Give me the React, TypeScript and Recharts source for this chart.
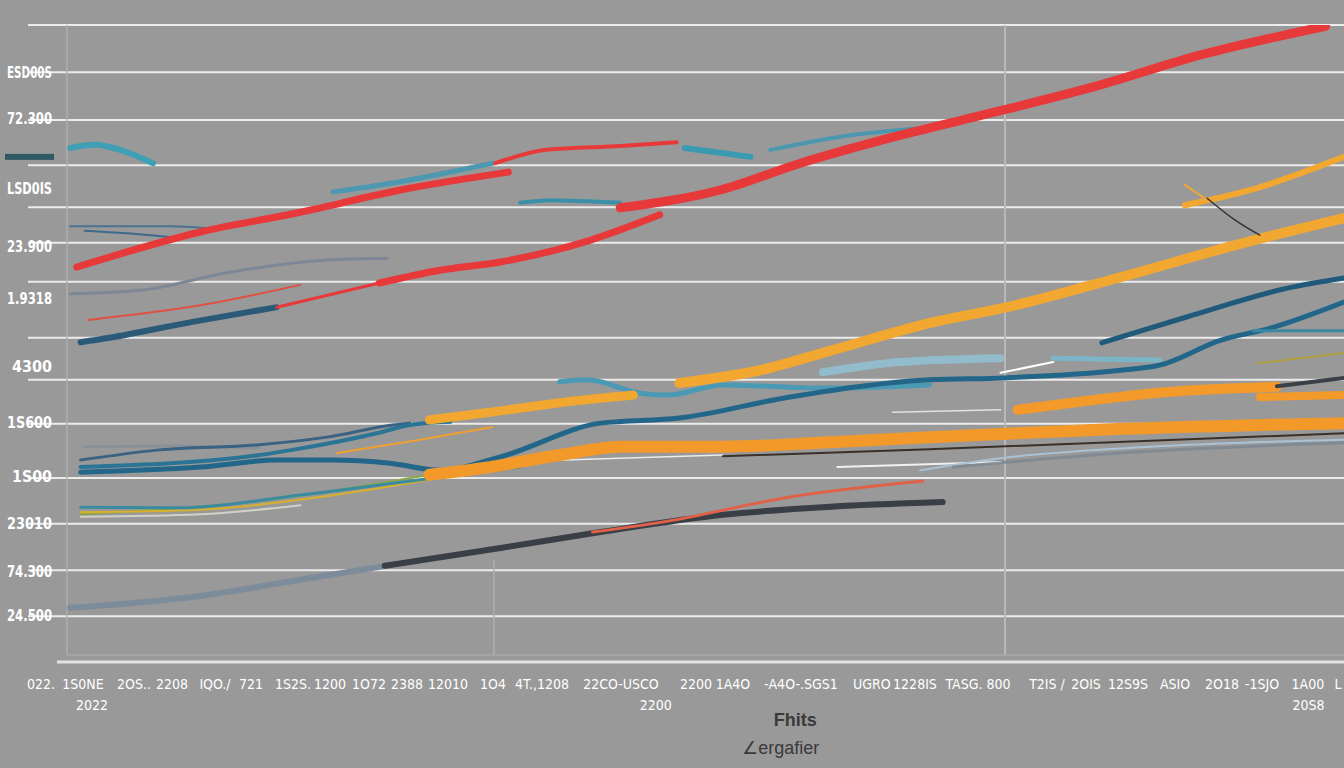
import React from 'react';
import { LineChart, Line, XAxis, YAxis, ReferenceLine, Label } from 'recharts';

type Pt = { x: number; y: number };

// ---- axis ticks ----
const yTickValues = [92.6, 85.4, 79.3, 74.4, 65.3, 57.1, 46.5, 37.7, 29.2, 21.8, 14.3, 7.4];
const yTickLabels = ['ESD00S', '72.300', '', 'LSD0IS', '23.900', '1.9318', '4300', '1S600', '1S00', '23010', '74.300', '24.500'];

const xTickValues = [0.99, 4.18, 8.05, 10.94, 14.21, 16.95, 20.14, 22.95, 25.91, 28.8, 31.91, 35.33, 39.06, 45.06, 50.76, 53.57, 58.74, 64.13, 67.4, 72.19, 77.43, 80.4, 83.59, 87.16, 90.73, 93.77, 97.26, 99.54];
const xTickLabels = ['022.', '1S0NE', '2OS..', '2208', 'IQO./', '721', '1S2S.', '1200', '1O72', '2388', '12010', '1O4', '4T.,1208', '22CO-USCO', '2200', '1A4O', '-A4O-.SGS1', 'UGRO', '1228IS', 'TASG. 800', 'T2IS /', '2OIS', '12S9S', 'ASIO', '2O18', '-1SJO', '1A00', 'L'];

const secondRowValues = [4.86, 47.7, 97.3];
const secondRowLabels = ['2022', '2200', '20S8'];

const titleLines = ['Fhits', '∠ergafier'];
const titlePositions = [58.3, 57.2];

const gridValues = [100, 92.6, 85.1, 78.0, 71.4, 65.8, 59.7, 50.9, 44.3, 37.4, 28.9, 21.7, 14.4, 7.2];

// ---- series ----
const whiteA: Pt[] = [{ x: 35.9, y: 31.4 }, { x: 52.8, y: 32.5 }];
const whiteB: Pt[] = [{ x: 61.5, y: 30.6 }, { x: 73.9, y: 31.4 }];
const whiteC: Pt[] = [{ x: 73.9, y: 45.4 }, { x: 77.9, y: 47.1 }];
const whiteD: Pt[] = [{ x: 65.7, y: 39.2 }, { x: 73.9, y: 39.6 }];
const lightBlueR: Pt[] = [{ x: 67.8, y: 30.1 }, { x: 73.9, y: 32.0 }, { x: 85.3, y: 33.8 }, { x: 100, y: 34.9 }];
const grayR: Pt[] = [{ x: 70.3, y: 30.6 }, { x: 83.0, y: 32.8 }, { x: 100, y: 34.4 }];
const grayLine: Pt[] = [{ x: 3.2, y: 57.8 }, { x: 8.7, y: 58.4 }, { x: 15.1, y: 61.1 }, { x: 22.7, y: 63.1 }, { x: 27.3, y: 63.4 }];
const grayLeft: Pt[] = [{ x: 4.3, y: 33.8 }, { x: 10.0, y: 33.9 }, { x: 17.6, y: 33.6 }];
const lightLeft: Pt[] = [{ x: 4.0, y: 22.8 }, { x: 13.1, y: 23.2 }, { x: 20.7, y: 24.6 }];
const greenLeft: Pt[] = [{ x: 4.0, y: 23.2 }, { x: 16.9, y: 25.1 }, { x: 30.5, y: 29.4 }];
const yellowLeft: Pt[] = [{ x: 4.0, y: 23.5 }, { x: 13.1, y: 23.9 }, { x: 22.2, y: 25.9 }, { x: 30.5, y: 28.6 }];
const tealThinLeft: Pt[] = [{ x: 4.0, y: 24.3 }, { x: 11.6, y: 24.2 }, { x: 20.7, y: 26.2 }, { x: 29.8, y: 28.6 }, { x: 37.4, y: 30.6 }];
const orangeThin: Pt[] = [{ x: 23.5, y: 32.8 }, { x: 29.8, y: 34.9 }, { x: 35.3, y: 36.9 }];
const blueThinA: Pt[] = [{ x: 3.2, y: 68.4 }, { x: 10.8, y: 68.4 }, { x: 13.6, y: 68.1 }];
const blueThinB: Pt[] = [{ x: 4.3, y: 67.7 }, { x: 7.5, y: 67.3 }, { x: 11.3, y: 66.6 }];
const lightTeal: Pt[] = [{ x: 60.4, y: 45.5 }, { x: 66.3, y: 47.1 }, { x: 73.9, y: 47.7 }];
const lightTeal2: Pt[] = [{ x: 77.9, y: 47.7 }, { x: 86.0, y: 47.4 }];
const tealBand: Pt[] = [{ x: 40.4, y: 44.0 }, { x: 42.5, y: 44.3 }, { x: 46.5, y: 42.2 }, { x: 48.6, y: 41.9 }, { x: 52.8, y: 43.5 }, { x: 60.4, y: 43.0 }, { x: 68.5, y: 43.5 }];
const tealTopLeft: Pt[] = [{ x: 3.2, y: 80.7 }, { x: 5.1, y: 81.2 }, { x: 7.0, y: 80.4 }, { x: 9.5, y: 78.3 }];
const tealUpper: Pt[] = [{ x: 23.2, y: 73.8 }, { x: 27.7, y: 75.2 }, { x: 35.3, y: 78.3 }];
const tealMid: Pt[] = [{ x: 37.4, y: 72.1 }, { x: 39.7, y: 72.5 }, { x: 45.0, y: 72.1 }];
const tealRight1: Pt[] = [{ x: 49.9, y: 80.7 }, { x: 54.9, y: 79.3 }];
const tealRight2: Pt[] = [{ x: 56.4, y: 80.4 }, { x: 62.5, y: 82.7 }, { x: 69.3, y: 84.0 }];
const blueA: Pt[] = [{ x: 4.0, y: 31.7 }, { x: 10.0, y: 33.3 }, { x: 17.6, y: 34.1 }, { x: 22.7, y: 35.3 }, { x: 27.7, y: 37.2 }, { x: 29.0, y: 37.5 }];
const blueB: Pt[] = [{ x: 4.0, y: 30.6 }, { x: 17.6, y: 32.5 }, { x: 20.1, y: 33.3 }, { x: 26.5, y: 35.9 }, { x: 29.0, y: 37.2 }, { x: 32.1, y: 37.7 }];
const blueLong: Pt[] = [{ x: 4.0, y: 29.8 }, { x: 13.1, y: 30.6 }, { x: 18.9, y: 31.7 }, { x: 23.0, y: 31.7 }, { x: 27.5, y: 31.2 }, { x: 31.3, y: 30.1 }, { x: 35.9, y: 32.2 }, { x: 43.5, y: 37.5 }, { x: 49.5, y: 38.3 }, { x: 57.9, y: 41.6 }, { x: 68.5, y: 44.3 }, { x: 74.1, y: 44.6 }, { x: 83.0, y: 45.8 }, { x: 86.0, y: 46.6 }, { x: 90.6, y: 50.5 }, { x: 94.4, y: 52.4 }, { x: 100, y: 56.5 }];
const blueUpperRight: Pt[] = [{ x: 81.6, y: 50.1 }, { x: 88.1, y: 54.2 }, { x: 95.7, y: 58.7 }, { x: 100, y: 60.3 }];
const tealRightThin: Pt[] = [{ x: 93.1, y: 52.0 }, { x: 100, y: 52.0 }];
const darkBottomLight: Pt[] = [{ x: 3.2, y: 8.5 }, { x: 12.5, y: 10.2 }, { x: 20.7, y: 12.9 }, { x: 27.5, y: 15.2 }];
const darkBottom: Pt[] = [{ x: 27.1, y: 15.1 }, { x: 35.9, y: 17.9 }, { x: 43.5, y: 20.4 }, { x: 52.8, y: 23.1 }, { x: 60.4, y: 24.3 }, { x: 69.5, y: 25.1 }];
const redLowerRight: Pt[] = [{ x: 42.9, y: 20.4 }, { x: 48.3, y: 22.0 }, { x: 57.9, y: 25.9 }, { x: 68.0, y: 28.4 }];
const orangeLeft: Pt[] = [{ x: 30.5, y: 38.0 }, { x: 35.1, y: 39.2 }, { x: 40.4, y: 40.7 }, { x: 46.0, y: 41.9 }];
const orangeMain: Pt[] = [{ x: 49.5, y: 43.8 }, { x: 55.6, y: 45.8 }, { x: 61.2, y: 49.0 }, { x: 68.5, y: 53.2 }, { x: 74.4, y: 55.7 }, { x: 83.0, y: 60.4 }, { x: 93.1, y: 66.2 }, { x: 100, y: 69.7 }];
const orangeWide: Pt[] = [{ x: 30.5, y: 29.4 }, { x: 35.1, y: 30.6 }, { x: 40.4, y: 32.5 }, { x: 45.2, y: 33.8 }, { x: 52.8, y: 33.8 }, { x: 60.9, y: 34.5 }, { x: 68.5, y: 35.3 }, { x: 80.5, y: 36.4 }, { x: 100, y: 37.5 }];
const darkUnder: Pt[] = [{ x: 52.8, y: 32.3 }, { x: 68.5, y: 33.4 }, { x: 100, y: 35.9 }];
const orange3: Pt[] = [{ x: 75.2, y: 39.6 }, { x: 80.5, y: 41.0 }, { x: 85.5, y: 42.2 }, { x: 94.9, y: 43.2 }];
const orange4: Pt[] = [{ x: 93.6, y: 41.6 }, { x: 100, y: 41.9 }];
const darkRight: Pt[] = [{ x: 94.9, y: 43.3 }, { x: 100, y: 44.6 }];
const orangeTopRight: Pt[] = [{ x: 87.9, y: 71.7 }, { x: 92.9, y: 74.1 }, { x: 100, y: 79.3 }];
const orangeTick: Pt[] = [{ x: 87.9, y: 74.9 }, { x: 89.4, y: 72.8 }];
const blackThin: Pt[] = [{ x: 89.6, y: 72.8 }, { x: 91.7, y: 69.4 }, { x: 93.6, y: 67.0 }];
const oliveRight: Pt[] = [{ x: 93.4, y: 46.9 }, { x: 100, y: 48.5 }];
const redThin: Pt[] = [{ x: 4.6, y: 53.7 }, { x: 13.1, y: 56.0 }, { x: 20.7, y: 59.2 }];
const blueDiag: Pt[] = [{ x: 4.0, y: 50.2 }, { x: 6.2, y: 50.9 }, { x: 12.5, y: 53.4 }, { x: 18.9, y: 55.7 }];
const redMain: Pt[] = [{ x: 3.7, y: 62.0 }, { x: 13.1, y: 67.5 }, { x: 20.7, y: 70.6 }, { x: 28.3, y: 74.1 }, { x: 36.5, y: 76.9 }];
const redUpper: Pt[] = [{ x: 35.5, y: 78.3 }, { x: 39.4, y: 80.4 }, { x: 45.0, y: 81.0 }, { x: 49.3, y: 81.6 }];
const redLowThin: Pt[] = [{ x: 18.9, y: 55.7 }, { x: 26.7, y: 59.5 }];
const redLow: Pt[] = [{ x: 26.7, y: 59.5 }, { x: 31.3, y: 61.5 }, { x: 35.9, y: 62.8 }, { x: 42.7, y: 66.2 }, { x: 48.0, y: 70.2 }];
const redDiag: Pt[] = [{ x: 45.0, y: 71.3 }, { x: 52.6, y: 74.1 }, { x: 58.7, y: 78.3 }, { x: 66.3, y: 82.7 }, { x: 74.2, y: 86.7 }, { x: 81.5, y: 90.6 }, { x: 89.1, y: 95.3 }, { x: 98.6, y: 99.8 }];

type S = { key: string; data: Pt[]; color: string; width: number; opacity?: number };
const series: S[] = [
  { key: 'whiteA', data: whiteA, color: '#ececec', width: 1.5 },
  { key: 'whiteB', data: whiteB, color: '#eef0f2', width: 2 },
  { key: 'whiteC', data: whiteC, color: '#ffffff', width: 2 },
  { key: 'whiteD', data: whiteD, color: '#e2e2e2', width: 1.5 },
  { key: 'lightBlueR', data: lightBlueR, color: '#aac2d4', width: 2 },
  { key: 'grayR', data: grayR, color: '#7b8691', width: 3, opacity: 0.8 },
  { key: 'grayLine', data: grayLine, color: '#7c8896', width: 3 },
  { key: 'grayLeft', data: grayLeft, color: '#8a9098', width: 3 },
  { key: 'lightLeft', data: lightLeft, color: '#d2d2ca', width: 2 },
  { key: 'greenLeft', data: greenLeft, color: '#8aa848', width: 2 },
  { key: 'yellowLeft', data: yellowLeft, color: '#d8b030', width: 2 },
  { key: 'tealThinLeft', data: tealThinLeft, color: '#3a8aa0', width: 3 },
  { key: 'orangeThin', data: orangeThin, color: '#f0a030', width: 2 },
  { key: 'blueThinA', data: blueThinA, color: '#4a7390', width: 2 },
  { key: 'blueThinB', data: blueThinB, color: '#3e6a8a', width: 2 },
  { key: 'lightTeal', data: lightTeal, color: '#92bccb', width: 8 },
  { key: 'lightTeal2', data: lightTeal2, color: '#7ab5c8', width: 5 },
  { key: 'tealBand', data: tealBand, color: '#4a9ab5', width: 5 },
  { key: 'tealTopLeft', data: tealTopLeft, color: '#3fa0b5', width: 6 },
  { key: 'tealUpper', data: tealUpper, color: '#4c98b0', width: 5 },
  { key: 'tealMid', data: tealMid, color: '#3a90a8', width: 4 },
  { key: 'tealRight1', data: tealRight1, color: '#3a9ab0', width: 6 },
  { key: 'tealRight2', data: tealRight2, color: '#4a98b0', width: 4 },
  { key: 'blueA', data: blueA, color: '#3a6282', width: 3 },
  { key: 'blueB', data: blueB, color: '#2a7595', width: 4 },
  { key: 'blueLong', data: blueLong, color: '#22678a', width: 5 },
  { key: 'blueUpperRight', data: blueUpperRight, color: '#1f5a7a', width: 5 },
  { key: 'tealRightThin', data: tealRightThin, color: '#3a8aa5', width: 3 },
  { key: 'darkBottomLight', data: darkBottomLight, color: '#7d8c9a', width: 6 },
  { key: 'darkBottom', data: darkBottom, color: '#3a3f47', width: 6 },
  { key: 'redLowerRight', data: redLowerRight, color: '#e06048', width: 3 },
  { key: 'orangeLeft', data: orangeLeft, color: '#f2a830', width: 9 },
  { key: 'orangeMain', data: orangeMain, color: '#f2a830', width: 10 },
  { key: 'orangeWide', data: orangeWide, color: '#f3992a', width: 12 },
  { key: 'darkUnder', data: darkUnder, color: '#3a3028', width: 2 },
  { key: 'orange3', data: orange3, color: '#f39a2a', width: 10 },
  { key: 'orange4', data: orange4, color: '#f39a2a', width: 8 },
  { key: 'darkRight', data: darkRight, color: '#3a4048', width: 4 },
  { key: 'orangeTopRight', data: orangeTopRight, color: '#f2a830', width: 6 },
  { key: 'orangeTick', data: orangeTick, color: '#f2a830', width: 2 },
  { key: 'blackThin', data: blackThin, color: '#333333', width: 1.5 },
  { key: 'oliveRight', data: oliveRight, color: '#b0a040', width: 2 },
  { key: 'redThin', data: redThin, color: '#e05040', width: 2 },
  { key: 'blueDiag', data: blueDiag, color: '#2b5a78', width: 6 },
  { key: 'redMain', data: redMain, color: '#e8393a', width: 7 },
  { key: 'redUpper', data: redUpper, color: '#e8393a', width: 4 },
  { key: 'redLowThin', data: redLowThin, color: '#e8393a', width: 3 },
  { key: 'redLow', data: redLow, color: '#e8393a', width: 7 },
  { key: 'redDiag', data: redDiag, color: '#e8393a', width: 9 },
];

const FONT = "'DejaVu Sans Condensed', 'DejaVu Sans', sans-serif";

const YTick = (props: any) => {
  const { x, y, payload } = props;
  const i = yTickValues.indexOf(payload.value);
  const label = yTickLabels[i];
  if (label === '') {
    return <rect x={x - 23} y={y - 3} width={49} height={6} fill="#2e5962" />;
  }
  const len = label.length >= 5 ? 45 : 40;
  return (
    <text
      x={x + 24}
      y={y}
      dy={6}
      textAnchor="end"
      fill="#ffffff"
      fontSize={15}
      fontWeight="bold"
      fontFamily={FONT}
      textLength={len}
      lengthAdjust="spacingAndGlyphs"
    >
      {label}
    </text>
  );
};

const XTick = (props: any) => {
  const { x, y, payload } = props;
  const i = xTickValues.indexOf(payload.value);
  return (
    <text x={x} y={y} dy={27} textAnchor="middle" fill="#ffffff" fontSize={14} fontFamily={FONT}>
      {xTickLabels[i]}
    </text>
  );
};

const AxisExtras = (props: any) => {
  const vb = props.viewBox;
  const px = (v: number) => vb.x + (v / 100) * vb.width;
  return (
    <g>
      {secondRowValues.map((v, i) => (
        <text key={'s' + i} x={px(v)} y={vb.y + 48} textAnchor="middle" fill="#ffffff" fontSize={14} fontFamily={FONT}>
          {secondRowLabels[i]}
        </text>
      ))}
      <text x={px(titlePositions[0])} y={vb.y + 64} textAnchor="middle" fill="#3a3a3a" fontSize={18} fontWeight="bold" fontFamily="'Liberation Sans', Arial, sans-serif">
        {titleLines[0]}
      </text>
      <text x={px(titlePositions[1])} y={vb.y + 92} textAnchor="middle" fill="#3a3a3a" fontSize={18} fontFamily="'Liberation Sans', Arial, sans-serif">
        {titleLines[1]}
      </text>
    </g>
  );
};

export default function App() {
  return (
    <div style={{ position: 'absolute', left: 0, top: 0, width: 1344, height: 768, background: '#999999', overflow: 'hidden' }}>
      <LineChart width={1344} height={768} margin={{ top: 25, right: 0, bottom: 0, left: 0 }}>
        <XAxis
          type="number"
          dataKey="x"
          domain={[0, 100]}
          ticks={xTickValues}
          interval={0}
          tick={<XTick />}
          tickSize={0}
          tickMargin={0}
          axisLine={false}
          tickLine={false}
          height={106}
          allowDataOverflow
        >
          <Label content={<AxisExtras />} />
        </XAxis>
        <YAxis
          type="number"
          domain={[0, 100]}
          ticks={yTickValues}
          interval={0}
          tick={<YTick />}
          tickSize={0}
          tickMargin={0}
          axisLine={false}
          tickLine={false}
          width={28}
          allowDataOverflow
        />
        {gridValues.map((v) => (
          <ReferenceLine key={'g' + v} y={v} stroke="#ececec" strokeWidth={2} ifOverflow="visible" />
        ))}
        <ReferenceLine stroke="#a8a8a8" strokeWidth={1.5} segment={[{ x: 2.96, y: 1.1 }, { x: 100, y: 1.1 }]} />
        <ReferenceLine stroke="#e2e2e2" strokeWidth={3} segment={[{ x: 2.2, y: 0 }, { x: 100, y: 0 }]} ifOverflow="visible" />
        <ReferenceLine stroke="#aeaeae" strokeWidth={1.5} segment={[{ x: 2.96, y: 1.1 }, { x: 2.96, y: 100 }]} />
        <ReferenceLine stroke="#b8b8b8" strokeWidth={2} segment={[{ x: 74.24, y: 1.1 }, { x: 74.24, y: 100 }]} />
        <ReferenceLine stroke="#b0b0b0" strokeWidth={1.5} segment={[{ x: 35.4, y: 1.1 }, { x: 35.4, y: 16.0 }]} />
        {series.map((s) => (
          <Line
            key={s.key}
            data={s.data}
            dataKey="y"
            type="monotone"
            stroke={s.color}
            strokeWidth={s.width}
            strokeOpacity={s.opacity ?? 1}
            strokeLinecap="round"
            strokeLinejoin="round"
            dot={false}
            activeDot={false}
            isAnimationActive={false}
          />
        ))}
      </LineChart>
    </div>
  );
}
